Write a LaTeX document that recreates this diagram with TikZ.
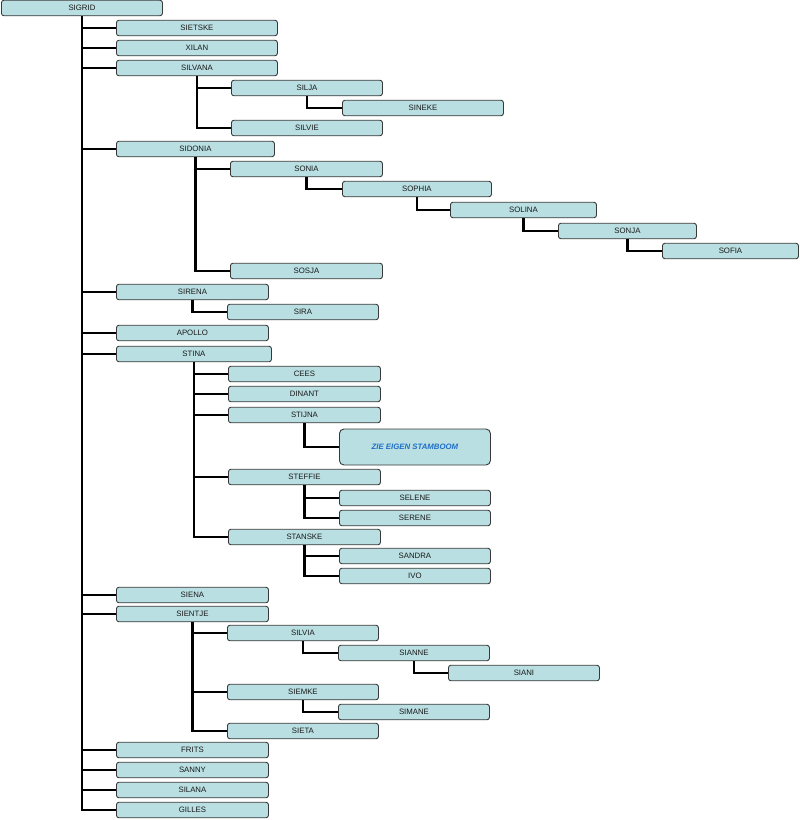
\documentclass[tikz,border=0pt]{standalone}
\usepackage{fontspec}
\setmainfont{Liberation Sans}
\usepackage{tikz}
\usetikzlibrary{arrows.meta}

\definecolor{boxfill}{HTML}{B9DFE2}
\definecolor{boxline}{HTML}{383838}
\definecolor{noteblue}{HTML}{1F6FC6}

\tikzset{
	pers/.style={draw=boxline, fill=boxfill, line width=0.9pt, rounded corners=2.5pt,
		anchor=west, minimum height=15.5pt, inner sep=0pt,
		font=\fontsize{7.8}{9}\selectfont, text=black!90},
	link/.style={line width=2.8pt, black},
}

\begin{document}
\begin{tikzpicture}[x=1pt,y=-1pt]
	\useasboundingbox (0,0) rectangle (800,820);

	\node[pers, minimum width=161pt] (sigrid) at (1,8) {SIGRID};
	\node[pers, minimum width=161pt] (sietske) at (116,28) {SIETSKE};
	\node[pers, minimum width=161pt] (xilan) at (116,48) {XILAN};
	\node[pers, minimum width=161pt] (silvana) at (116,68) {SILVANA};
	\node[pers, minimum width=151pt] (silja) at (231,88) {SILJA};
	\node[pers, minimum width=161pt] (sineke) at (342,108) {SINEKE};
	\node[pers, minimum width=151pt] (silvie) at (231,128) {SILVIE};
	\node[pers, minimum width=158pt] (sidonia) at (116,149) {SIDONIA};
	\node[pers, minimum width=152pt] (sonia) at (230,169) {SONIA};
	\node[pers, minimum width=149pt] (sophia) at (342,189) {SOPHIA};
	\node[pers, minimum width=146pt] (solina) at (450,210) {SOLINA};
	\node[pers, minimum width=138pt] (sonja) at (558,231) {SONJA};
	\node[pers, minimum width=136pt] (sofia) at (662,251) {SOFIA};
	\node[pers, minimum width=152pt] (sosja) at (230,271) {SOSJA};
	\node[pers, minimum width=152pt] (sirena) at (116,292) {SIRENA};
	\node[pers, minimum width=151pt] (sira) at (227,312) {SIRA};
	\node[pers, minimum width=152pt] (apollo) at (116,333) {APOLLO};
	\node[pers, minimum width=155pt] (stina) at (116,354) {STINA};
	\node[pers, minimum width=152pt] (cees) at (228,374) {CEES};
	\node[pers, minimum width=152pt] (dinant) at (228,394) {DINANT};
	\node[pers, minimum width=152pt] (stijna) at (228,415) {STIJNA};
	\node[pers, minimum width=151pt, minimum height=36pt, rounded corners=4.5pt,
		text=noteblue, font=\fontsize{7.8}{9}\selectfont\bfseries\itshape] (zie) at (339,447) {ZIE EIGEN STAMBOOM};
	\node[pers, minimum width=152pt] (steffie) at (228,477) {STEFFIE};
	\node[pers, minimum width=151pt] (selene) at (339,498) {SELENE};
	\node[pers, minimum width=151pt] (serene) at (339,518) {SERENE};
	\node[pers, minimum width=152pt] (stanske) at (228,537) {STANSKE};
	\node[pers, minimum width=151pt] (sandra) at (339,556) {SANDRA};
	\node[pers, minimum width=151pt] (ivo) at (339,576) {IVO};
	\node[pers, minimum width=152pt] (siena) at (116,595) {SIENA};
	\node[pers, minimum width=152pt] (sientje) at (116,614) {SIENTJE};
	\node[pers, minimum width=151pt] (silvia) at (227,633) {SILVIA};
	\node[pers, minimum width=151pt] (sianne) at (338,653) {SIANNE};
	\node[pers, minimum width=151pt] (siani) at (448,673) {SIANI};
	\node[pers, minimum width=151pt] (siemke) at (227,692) {SIEMKE};
	\node[pers, minimum width=151pt] (simane) at (338,712) {SIMANE};
	\node[pers, minimum width=151pt] (sieta) at (227,731) {SIETA};
	\node[pers, minimum width=152pt] (frits) at (116,750) {FRITS};
	\node[pers, minimum width=152pt] (sanny) at (116,770) {SANNY};
	\node[pers, minimum width=152pt] (silana) at (116,790) {SILANA};
	\node[pers, minimum width=152pt] (gilles) at (116,810) {GILLES};

	\foreach \p/\c in {sigrid/sietske, sigrid/xilan, sigrid/silvana, sigrid/sidonia,
		sigrid/sirena, sigrid/apollo, sigrid/stina, sigrid/siena, sigrid/sientje,
		sigrid/frits, sigrid/sanny, sigrid/silana, sigrid/gilles,
		silvana/silja, silvana/silvie, silja/sineke,
		sidonia/sonia, sidonia/sosja, sonia/sophia, sophia/solina, solina/sonja, sonja/sofia,
		sirena/sira,
		stina/cees, stina/dinant, stina/stijna, stina/steffie, stina/stanske,
		stijna/zie, steffie/selene, steffie/serene, stanske/sandra, stanske/ivo,
		sientje/silvia, sientje/siemke, sientje/sieta,
		silvia/sianne, sianne/siani, siemke/simane}
		\draw[link] (\p.south) |- (\c.west);

\end{tikzpicture}
\end{document}
